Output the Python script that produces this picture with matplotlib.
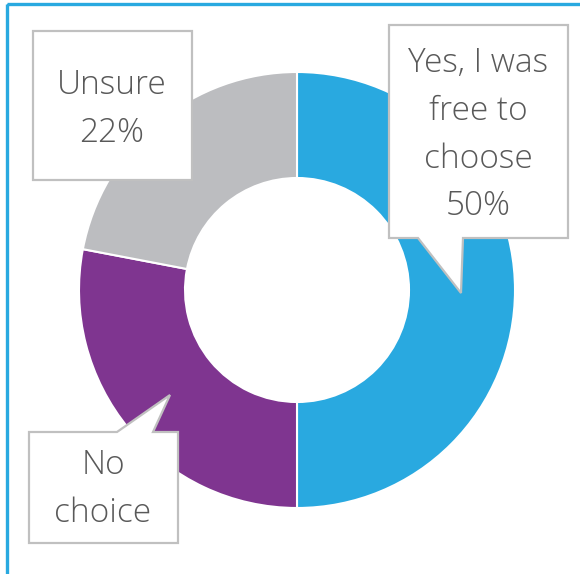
import matplotlib.pyplot as plt
from matplotlib.patches import Polygon, Rectangle

# Survey answers (percent)
labels = ["Yes, I was\nfree to\nchoose", "No\nchoice", "Unsure"]
values = [50, 28, 22]
show_pct = [True, False, True]
colors = ["#29A9E0", "#7F3590", "#BCBDC0"]

W, H = 580, 574
text_color = "#595959"
edge_gray = "#C0C0C0"

fig = plt.figure(figsize=(W / 100, H / 100), dpi=100)
ax = fig.add_axes([0, 0, 1, 1])

# outer frame
ax.add_patch(Rectangle((7, 4), 600, 600, fill=False, edgecolor="#29A9E0", linewidth=2.4))

# donut: with y flipped, start at -90 and go counterclock to read clockwise from top
ax.pie(values, colors=colors, startangle=-90, counterclock=True,
       center=(297, 290), radius=218, frame=True,
       wedgeprops=dict(width=106, edgecolor="white", linewidth=1.5))
ax.set_xlim(0, W)
ax.set_ylim(H, 0)  # pixel-style coordinates, y down
ax.set_aspect("equal")
ax.axis("off")

# callout shapes (box with a pointer)
callouts = [
    [(389, 25), (568, 25), (568, 238), (463, 238), (461, 293), (418, 238), (389, 238)],
    [(29, 432), (117, 432), (170, 395), (153, 432), (178, 432), (178, 543), (29, 543)],
    [(33, 31), (192, 31), (192, 180), (33, 180)],
]
text_pos = [(478, 135), (103, 489), (112, 109)]

for shape, (tx, ty), lab, val, pct in zip(callouts, text_pos, labels, values, show_pct):
    ax.add_patch(Polygon(shape, closed=True, facecolor="white", edgecolor=edge_gray,
                         linewidth=1.6, zorder=5))
    txt = f"{lab}\n{val}%" if pct else lab
    ax.text(tx, ty, txt, ha="center", va="center", fontsize=24, color=text_color,
            fontfamily="Open Sans", fontweight="light", linespacing=1.55, zorder=6)

fig.savefig("out.png", dpi=100)
